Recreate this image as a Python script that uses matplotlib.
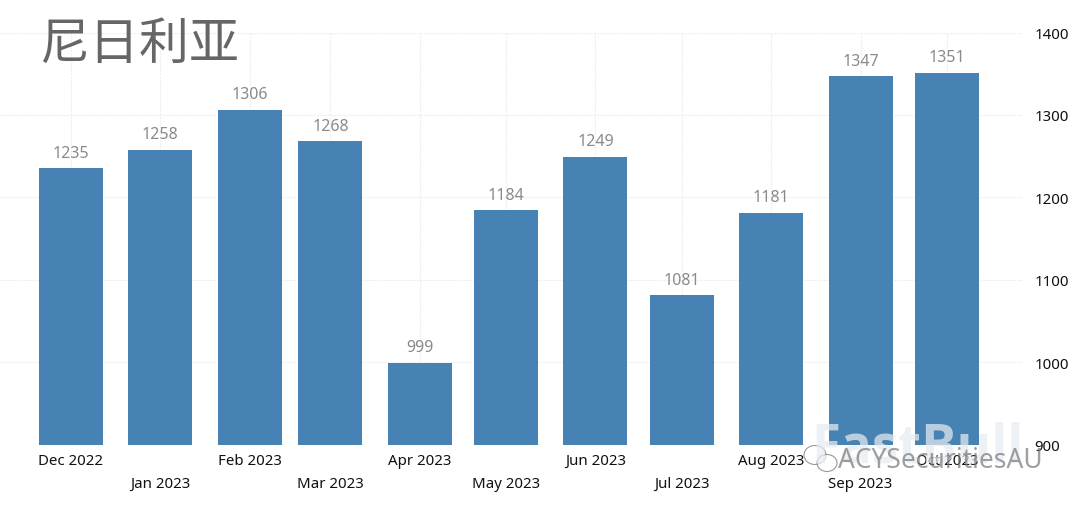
import matplotlib
matplotlib.use("Agg")
import matplotlib.pyplot as plt
import matplotlib.dates as mdates
import pandas as pd
from matplotlib.patches import Ellipse

plt.rcParams['font.family'] = ['Noto Sans', 'DejaVu Sans']

title = "尼日利亚"
months = ["2022-12-01", "2023-01-01", "2023-02-01", "2023-03-01", "2023-04-01", "2023-05-01",
          "2023-06-01", "2023-07-01", "2023-08-01", "2023-09-01", "2023-10-01"]
values = [1235, 1258, 1306, 1268, 999, 1184, 1249, 1081, 1181, 1347, 1351]
month_labels = ["Dec 2022", "Jan 2023", "Feb 2023", "Mar 2023", "Apr 2023", "May 2023",
                "Jun 2023", "Jul 2023", "Aug 2023", "Sep 2023", "Oct 2023"]
y_ticks = [900, 1000, 1100, 1200, 1300, 1400]

dates = pd.to_datetime(months)
x = mdates.date2num(dates)

fig = plt.figure(figsize=(10.8, 5.06), dpi=100)
ax = fig.add_axes([0, (506 - 445.5) / 506, 1022 / 1080, (445.5 - 33.5) / 506])

ax.bar(x, values, width=22.2, color="#4682b4", zorder=3)
for xi, v in zip(x, values):
    ax.annotate(str(v), (xi, v), xytext=(0, 5.5), textcoords="offset points",
                ha="center", va="bottom", fontsize=11.5, color="#8a8a8a", zorder=4)

ax.set_xlim(x[0] - 24.6, x[0] + 330.0)
ax.set_ylim(900, 1400)
ax.set_yticks(y_ticks)
ax.yaxis.tick_right()
ax.set_xticks(x)
ax.set_xticklabels([lab if i % 2 == 0 else "\n" + lab for i, lab in enumerate(month_labels)],
                   linespacing=1.75)
ax.tick_params(axis="x", length=0, pad=6, labelsize=10.8, colors="#111111")
ax.tick_params(axis="y", length=0, pad=9, labelsize=10.8, colors="#111111")
for s in ax.spines.values():
    s.set_visible(False)
ax.grid(True, color="#eeeeee", linewidth=0.8, linestyle=(0, (2, 1)), zorder=0)
ax.set_axisbelow(True)

fig.text(39 / 1080, 1 - 45 / 506, title, fontsize=36, color="#666666", va="center", ha="left",
         family=['Noto Sans CJK SC', 'DejaVu Sans'], zorder=5)

fig.text(917 / 1080, 1 - 449 / 506, "FastBull", fontsize=38, fontweight="bold", color="#e6ebf0",
         alpha=0.72, ha="center", va="center", family="Open Sans", zorder=6)
fig.text(940 / 1080, 1 - 461 / 506, "ACYSecuritiesAU", fontsize=19, color="#777777",
         alpha=0.7, ha="center", va="center", zorder=7)
for cx, cy, w, h in [(815, 456, 22, 19), (827, 464, 20, 17)]:
    fig.add_artist(Ellipse((cx / 1080, 1 - cy / 506), w / 1080, h / 506, transform=fig.transFigure,
                           facecolor=(1, 1, 1, 0.6), edgecolor="#999999", linewidth=0.8, zorder=6))

fig.savefig("out.png", dpi=100)
